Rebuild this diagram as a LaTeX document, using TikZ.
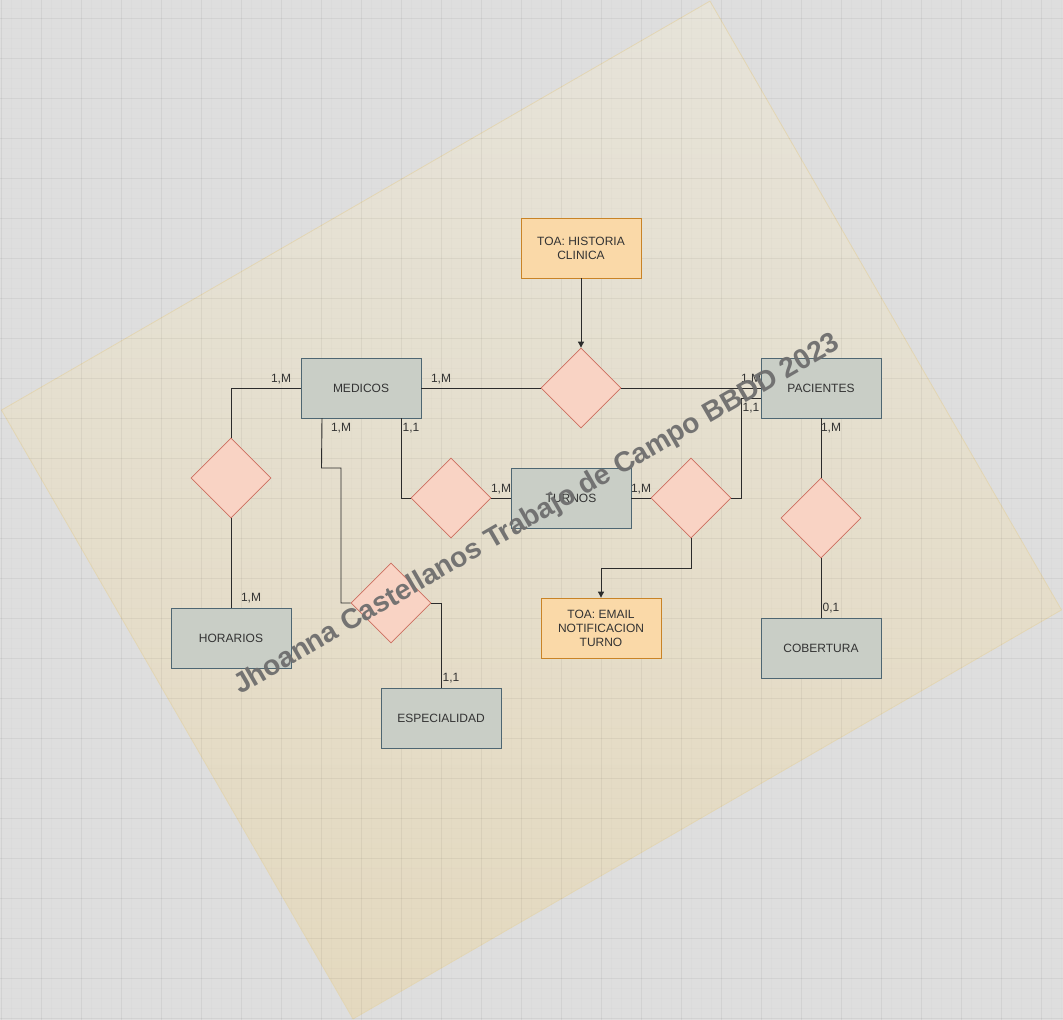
\documentclass[tikz,border=0pt]{standalone}
\usepackage{fontspec}
\setmainfont{Liberation Sans}
\usetikzlibrary{shapes.geometric,arrows.meta}
\definecolor{bgc}{HTML}{DEDEDE}
\definecolor{papertop}{HTML}{E6E3D9}
\definecolor{paperbot}{HTML}{E4D9BF}
\definecolor{paperline}{HTML}{E3D6B4}
\definecolor{entfill}{HTML}{C9CEC6}
\definecolor{entdraw}{HTML}{4E6672}
\definecolor{relfill}{HTML}{F9D3C4}
\definecolor{reldraw}{HTML}{CC6F60}
\definecolor{toafill}{HTML}{FAD9A8}
\definecolor{toadraw}{HTML}{C98326}
\definecolor{txt}{HTML}{333333}
\definecolor{wire}{HTML}{2B2B2B}
\definecolor{wmark}{HTML}{6E6E6E}
\begin{document}
\begin{tikzpicture}[x=1pt,y=-1pt,
  entity/.style={draw=entdraw,fill=entfill,line width=0.8pt,minimum width=120pt,minimum height=60pt,inner sep=0pt,font=\fontsize{12}{14}\selectfont,text=txt,align=center},
  toa/.style={draw=toadraw,fill=toafill,line width=0.8pt,minimum width=120pt,minimum height=60pt,inner sep=0pt,font=\fontsize{12}{14}\selectfont,text=txt,align=center},
  rel/.style={draw=reldraw,fill=relfill,line width=0.8pt,diamond,minimum width=80pt,minimum height=80pt,inner sep=0pt,aspect=1},
  conn/.style={draw=wire,line width=0.9pt},
  card/.style={font=\fontsize{12}{14}\selectfont,text=txt,inner sep=0pt}
]
\useasboundingbox (0,0) rectangle (1063,1020);
\fill[bgc] (0,0) rectangle (1063,1020);
% paper
\node[rotate=30,minimum width=818pt,minimum height=703pt,inner sep=0pt,top color=papertop,bottom color=paperbot,draw=paperline,line width=0.8pt] (paper) at (531.5,510) {};
% grid
\foreach \i in {0,...,106} {
  \draw[black,opacity=0.012,line width=0.6pt] (1+10*\i,0) -- (1+10*\i,1020);
}
\foreach \j in {0,...,102} {
  \draw[black,opacity=0.012,line width=0.6pt] (0,-2+10*\j) -- (1063,-2+10*\j);
}
\foreach \i in {0,...,26} {
  \draw[black,opacity=0.04,line width=0.8pt] (1+40*\i,0) -- (1+40*\i,1020);
}
\foreach \j in {0,...,25} {
  \draw[black,opacity=0.04,line width=0.8pt] (0,18+40*\j) -- (1063,18+40*\j);
}
% entities
\node[toa] (hc) at (581,248) {TOA: HISTORIA\\CLINICA};
\node[entity] (med) at (361,388) {MEDICOS};
\node[entity] (pac) at (821,388) {PACIENTES};
\node[entity] (tur) at (571,498) {TURNOS};
\node[entity] (hor) at (231,638) {HORARIOS};
\node[entity] (esp) at (441,718) {ESPECIALIDAD};
\node[toa] (mail) at (601,628) {TOA: EMAIL\\NOTIFICACION\\TURNO};
\node[entity] (cob) at (821,648) {COBERTURA};
% relations
\node[rel] (r1) at (581,388) {};
\node[rel] (rh) at (231,478) {};
\node[rel] (rt) at (451,498) {};
\node[rel] (re) at (391,603) {};
\node[rel] (rp) at (691,498) {};
\node[rel] (rc) at (821,518) {};
% connectors
\draw[conn,-{Triangle[length=6pt,width=6pt]}] (hc.south) -- (r1.north);
\draw[conn] (med.east) -- (r1.west);
\draw[conn] (r1.east) -- (pac.west);
\draw[conn] (med.west) -| (rh.north);
\draw[conn] (rh.south) -- (hor.north);
\draw[conn] (med.south -| 401,0) |- (rt.west);
\draw[conn] (rt.east) -- (tur.west);
\coordinate (m2) at (322,418);
\draw[conn] (m2) -- (321.5,468) -- (341,468) |- (re.west);
\draw[conn] (re.east) -| (esp.north);
\draw[conn] (tur.east) -- (rp.west);
\coordinate (p2) at (761,398);
\draw[conn] (rp.east) -- (741,498) |- (p2);
\draw[conn,-{Triangle[length=6pt,width=6pt]}] (rp.south) |- (601,568) -- (mail.north);
\draw[conn] (pac.south) -- (rc.north);
\draw[conn] (rc.south) -- (cob.north);
% cardinalities
\node[card] at (281,379) {1,M};
\node[card] at (441,379) {1,M};
\node[card] at (751,379) {1,M};
\node[card] at (751,408) {1,1};
\node[card] at (251,598) {1,M};
\node[card] at (341,428) {1,M};
\node[card] at (411,428) {1,1};
\node[card] at (501,489) {1,M};
\node[card] at (641,489) {1,M};
\node[card] at (451,678) {1,1};
\node[card] at (831,428) {1,M};
\node[card] at (831,608) {0,1};
% watermark
\node[rotate=30,text=wmark,opacity=0.95,font=\fontsize{28.2}{31}\bfseries\selectfont,inner sep=0pt] (wm) at (537,515) {Jhoanna Castellanos Trabajo de Campo BBDD 2023};
\end{tikzpicture}
\end{document}
